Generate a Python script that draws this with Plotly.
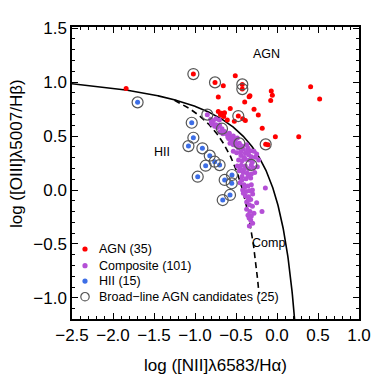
import plotly.graph_objects as go
import numpy as np

# ---- data (log [NII]/Ha, log [OIII]/Hb) ----
agn_x = [-1.84, -1.02, -0.756, -0.509, -0.655, -0.423, -0.423, -0.716, -0.34, -0.33,
         -0.394, -0.07, -0.057, -0.077, 0.41, 0.52, -0.57, -0.716, -0.674, -0.64,
         -0.674, -0.28, -0.228, -0.472, -0.418, -0.386, -0.606, -0.52, -0.18, -0.02,
         0.265, -0.138, -0.11, -0.69, -0.65]
agn_y = [0.94, 1.074, 0.997, 1.058, 0.966, 0.978, 0.935, 0.861, 0.864, 0.873,
         0.815, 0.917, 0.877, 0.83, 0.957, 0.843, 0.756, 0.728, 0.71, 0.716,
         0.694, 0.747, 0.694, 0.685, 0.66, 0.645, 0.648, 0.636, 0.571, 0.494,
         0.494, 0.423, 0.42, 0.70, 0.68]

comp_x = [-0.850, -0.809, -0.777, -0.744, -0.703, -0.793, -0.744, -0.728, -0.671, -0.695,
          -0.638, -0.614, -0.581, -0.565, -0.533, -0.589, -0.541, -0.508, -0.484, -0.459,
          -0.573, -0.533, -0.492, -0.427, -0.411, -0.370, -0.354, -0.321, -0.281, -0.248,
          -0.533, -0.492, -0.443, -0.386, -0.346, -0.313, -0.264, -0.224, -0.468, -0.427,
          -0.386, -0.337, -0.313, -0.484, -0.435, -0.386, -0.346, -0.289, -0.240, -0.459,
          -0.411, -0.362, -0.313, -0.272, -0.427, -0.378, -0.321,
          -0.451, -0.402, -0.354, -0.313, -0.419, -0.378, -0.337, -0.297, -0.386, -0.346,
          -0.321, -0.248, -0.370, -0.337, -0.370, -0.329, -0.281, -0.313, -0.354, -0.183,
          -0.142, -0.321, -0.297, -0.337,
          -0.80, -0.76, -0.70, -0.66, -0.60, -0.55, -0.51, -0.47, -0.44, -0.40,
          -0.36, -0.30, -0.45, -0.40, -0.35, -0.43, -0.39, -0.30, -0.41, -0.35,
          -0.30, -0.34]
comp_y = [0.698, 0.655, 0.642, 0.661, 0.648, 0.611, 0.605, 0.580, 0.568, 0.537,
          0.543, 0.519, 0.525, 0.494, 0.500, 0.476, 0.457, 0.463, 0.482, 0.432,
          0.432, 0.420, 0.408, 0.408, 0.377, 0.420, 0.389, 0.364, 0.358, 0.334,
          0.358, 0.346, 0.352, 0.340, 0.327, 0.309, 0.303, 0.278, 0.278, 0.272,
          0.284, 0.278, 0.232, 0.222, 0.229, 0.222, 0.198, 0.204, 0.216, 0.179,
          0.161, 0.155, 0.148, 0.161, 0.124, 0.105, 0.111,
          0.068, 0.049, 0.037, 0.049, 0.000, -0.013, -0.006, -0.037, -0.056, -0.062,
          -0.087, -0.117, -0.111, -0.136, -0.179, -0.198, -0.216, -0.241, -0.235, -0.198,
          0.018, -0.278, -0.309, -0.334,
          0.63, 0.59, 0.60, 0.52, 0.49, 0.47, 0.44, 0.39, 0.32, 0.30,
          0.36, 0.26, 0.20, 0.19, 0.13, 0.09, 0.03, 0.00, -0.03, -0.09,
          -0.15, -0.26]

hii_x = [-1.70, -1.04, -1.02, -1.08, -0.91, -0.82, -0.87, -0.76, -0.70, -0.967,
         -0.638, -0.549, -0.552, -0.662, -0.573]
hii_y = [0.812, 0.623, 0.484, 0.407, 0.386, 0.318, 0.225, 0.262, 0.231, 0.123,
         0.093, 0.139, 0.062, -0.093, -0.046]

bl_x = hii_x + [-1.02, -0.756, -0.423, -0.423, -0.472, -0.138, -0.850, -0.671, -0.459, -0.313]
bl_y = hii_y + [1.074, 0.997, 0.978, 0.935, 0.685, 0.423, 0.698, 0.568, 0.432, 0.232]

legend_labels = ["AGN (35)", "Composite (101)", "HII (15)", "Broad\u2212line AGN candidates (25)"]

# demarcation curves: y = a/(x - b) + c
kew_a, kew_b, kew_c = 0.61, 0.47, 1.19   # Kewley et al. 2001
kau_a, kau_b, kau_c = 0.61, 0.05, 1.30   # Kauffmann et al. 2003

YMIN, YMAX = -1.195, 1.51
kx = np.linspace(-2.5, 0.3, 600)
ky = kew_a / (kx - kew_b) + kew_c
m = ky >= YMIN - 0.05
kx, ky = kx[m], ky[m]
ux = np.linspace(-1.25, -0.22, 300)
uy = kau_a / (ux - kau_b) + kau_c

FONT = "Liberation Sans, Arial, sans-serif"
C_AGN, C_COMP, C_HII, C_BL = "#ff0000", "#b44fd6", "#3d6ee6", "#555555"

fig = go.Figure()
fig.add_trace(go.Scatter(x=kx, y=ky, mode="lines", line=dict(color="black", width=1.6),
                         showlegend=False, hoverinfo="skip"))
fig.add_trace(go.Scatter(x=ux, y=uy, mode="lines", line=dict(color="black", width=1.6, dash="6px,4px"),
                         showlegend=False, hoverinfo="skip"))
fig.add_trace(go.Scatter(x=agn_x, y=agn_y, mode="markers", name=legend_labels[0], showlegend=False,
                         marker=dict(color=C_AGN, size=5)))
fig.add_trace(go.Scatter(x=comp_x, y=comp_y, mode="markers", name=legend_labels[1], showlegend=False,
                         marker=dict(color=C_COMP, size=5)))
fig.add_trace(go.Scatter(x=hii_x, y=hii_y, mode="markers", name=legend_labels[2], showlegend=False,
                         marker=dict(color=C_HII, size=5)))
fig.add_trace(go.Scatter(x=bl_x, y=bl_y, mode="markers", name=legend_labels[3], showlegend=False,
                         marker=dict(symbol="circle-open", color=C_BL, size=11,
                                     line=dict(width=1.2, color=C_BL))))

# region labels
fig.add_annotation(x=-0.13, y=1.26, text="AGN", showarrow=False, font=dict(size=12.5, color="black", family=FONT))
fig.add_annotation(x=-1.40, y=0.35, text="HII", showarrow=False, font=dict(size=12.5, color="black", family=FONT))
fig.add_annotation(x=-0.10, y=-0.495, text="Comp", showarrow=False, font=dict(size=12.5, color="black", family=FONT))
# y-axis title
fig.add_annotation(xref="paper", yref="paper", x=-0.195, y=0.565, xanchor="center", yanchor="middle",
                   text="log ([OIII]\u03bb5007/H\u03b2)", textangle=-90, showarrow=False,
                   font=dict(size=17, color="black", family=FONT))

# legend (inside plot, lower left)
leg_rows = [0.2397, 0.1825, 0.130, 0.0764]
leg_colors = [C_AGN, C_COMP, C_HII, None]
sym_x = 0.0453
for lab, yy, col in zip(legend_labels, leg_rows, leg_colors):
    if col is not None:
        fig.add_shape(type="circle", xref="paper", yref="paper", xsizemode="pixel", ysizemode="pixel",
                      xanchor=sym_x, yanchor=yy, x0=-2.6, x1=2.6, y0=-2.6, y1=2.6,
                      fillcolor=col, line=dict(width=0))
    else:
        fig.add_shape(type="circle", xref="paper", yref="paper", xsizemode="pixel", ysizemode="pixel",
                      xanchor=sym_x, yanchor=yy, x0=-4.2, x1=4.2, y0=-4.2, y1=4.2,
                      fillcolor="rgba(0,0,0,0)", line=dict(width=1.2, color=C_BL))
    fig.add_annotation(xref="paper", yref="paper", x=0.086, y=yy, xanchor="left", yanchor="middle",
                       text=lab, showarrow=False, font=dict(size=12.5, color="black", family=FONT))

axis_common = dict(showline=True, linecolor="black", linewidth=1.5, mirror="ticks",
                   ticks="inside", ticklen=6, tickwidth=1.2, tickcolor="black",
                   showgrid=False, zeroline=False, automargin=False,
                   tickfont=dict(size=17, color="black", family=FONT))
fig.update_xaxes(range=[-2.5, 1.0], dtick=0.5, tick0=0, tickformat=".1f",
                 minor=dict(dtick=0.1, ticks="inside", ticklen=3, tickcolor="black", tickwidth=1),
                 title=dict(text="log ([NII]\u03bb6583/H\u03b1)", font=dict(size=17, color="black", family=FONT), standoff=15),
                 **axis_common)
fig.update_yaxes(range=[YMIN, YMAX], dtick=0.5, tick0=0, tickformat=".1f",
                 minor=dict(dtick=0.1, ticks="inside", ticklen=3, tickcolor="black", tickwidth=1),
                 **axis_common)

fig.update_layout(
    width=380, height=386,
    margin=dict(l=72, r=21, t=27, b=67),
    paper_bgcolor="white", plot_bgcolor="white",
    font=dict(family=FONT, color="black"),
    showlegend=False,
)

fig.write_html("out.html", config={"displayModeBar": False},
               post_script="document.body.style.margin='0';document.body.style.overflow='hidden';")
